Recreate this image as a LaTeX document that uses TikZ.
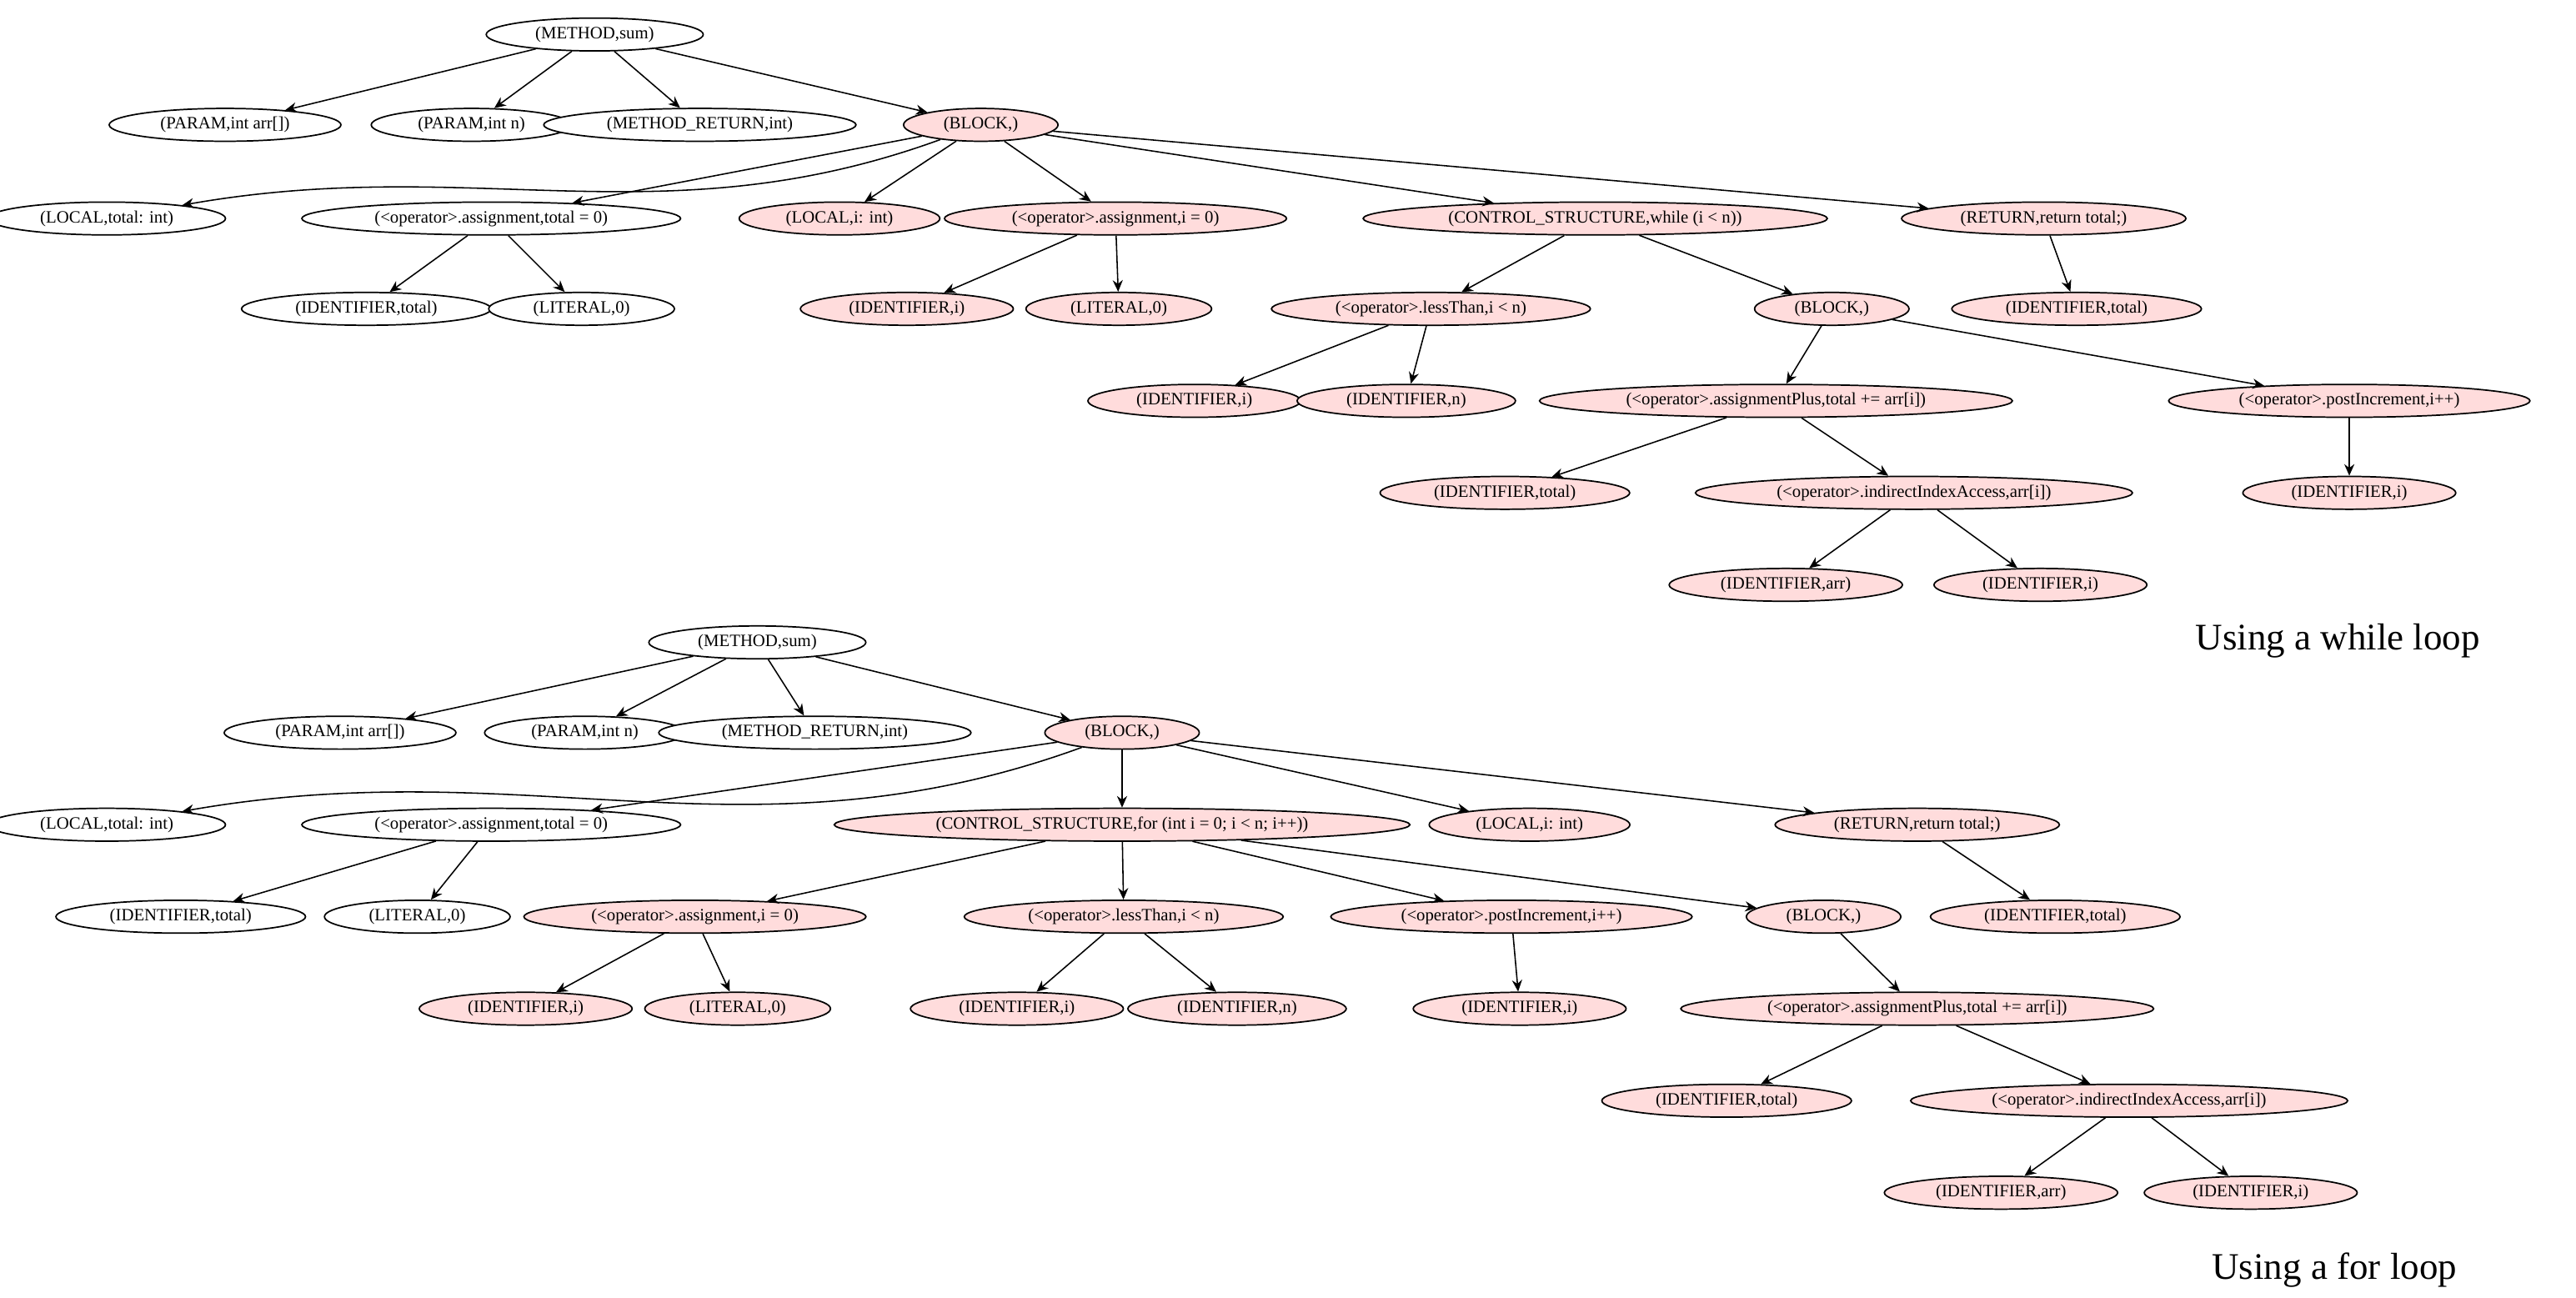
\documentclass[tikz,border=0pt]{standalone}
\usepackage{fontspec}
\setmainfont{Liberation Serif}
\usetikzlibrary{shapes.geometric,arrows.meta}
\definecolor{pk}{HTML}{FFDCDC}
\tikzset{
 n/.style={ellipse,draw,line width=0.5pt,inner xsep=6pt,inner ysep=0pt,minimum height=0.4cm,font=\fontsize{6}{7}\selectfont,fill=white},
 p/.style={n,fill=pk},
 e/.style={-{Stealth[length=4pt,width=3.5pt]},line width=0.45pt},
 captext/.style={font=\fontsize{13}{15}\selectfont}
}
\begin{document}
\begin{tikzpicture}[x=0.02cm,y=-0.02cm]
\useasboundingbox (0,0) rectangle (1568,790);
% top tree
\node[n] (a) at (362,21) {(METHOD,sum)};
\node[n] (a1) at (137,76) {(PARAM,int arr[])};
\node[n] (a2) at (287,76) {(PARAM,int n)};
\node[n] (a3) at (426,76) {(METHOD\_RETURN,int)};
\node[p] (ab) at (597,76) {(BLOCK,)};
\node[n] (b1) at (65,133) {(LOCAL,total: int)};
\node[n] (b2) at (299,133) {(<operator>.assignment,total = 0)};
\node[p] (b3) at (511,133) {(LOCAL,i: int)};
\node[p] (b4) at (679,133) {(<operator>.assignment,i = 0)};
\node[p] (b5) at (971,133) {(CONTROL\_STRUCTURE,while (i < n))};
\node[p] (b6) at (1244,133) {(RETURN,return total;)};
\node[n] (c1) at (223,188) {(IDENTIFIER,total)};
\node[n] (c2) at (354,188) {(LITERAL,0)};
\node[p] (c3) at (552,188) {(IDENTIFIER,i)};
\node[p] (c4) at (681,188) {(LITERAL,0)};
\node[p] (c5) at (871,188) {(<operator>.lessThan,i < n)};
\node[p] (c6) at (1115,188) {(BLOCK,)};
\node[p] (c7) at (1264,188) {(IDENTIFIER,total)};
\node[p] (d1) at (727,244) {(IDENTIFIER,i)};
\node[p] (d2) at (856,244) {(IDENTIFIER,n)};
\node[p] (d3) at (1081,244) {(<operator>.assignmentPlus,total += arr[i])};
\node[p] (d4) at (1430,244) {(<operator>.postIncrement,i++)};
\node[p] (f1) at (916,300) {(IDENTIFIER,total)};
\node[p] (f2) at (1165,300) {(<operator>.indirectIndexAccess,arr[i])};
\node[p] (f3) at (1430,300) {(IDENTIFIER,i)};
\node[p] (g1) at (1087,356) {(IDENTIFIER,arr)};
\node[p] (g2) at (1242,356) {(IDENTIFIER,i)};
\node[captext] (t1) at (1423,390) {Using a while loop};
\foreach \s/\t in {a/a1,a/a2,a/a3,a/ab,ab/b2,ab/b3,ab/b4,ab/b5,ab/b6,b2/c1,b2/c2,b4/c3,b4/c4,b5/c5,b5/c6,b6/c7,c5/d1,c5/d2,c6/d3,c6/d4,d3/f1,d3/f2,d4/f3,f2/g1,f2/g2}
  \draw[e] (\s) -- (\t);
\draw[e] (ab) to[out=200,in=10] (b1);
% bottom tree
\node[n] (A) at (461,391) {(METHOD,sum)};
\node[n] (A1) at (207,446) {(PARAM,int arr[])};
\node[n] (A2) at (356,446) {(PARAM,int n)};
\node[n] (A3) at (496,446) {(METHOD\_RETURN,int)};
\node[p] (AB) at (683,446) {(BLOCK,)};
\node[n] (B1) at (65,502) {(LOCAL,total: int)};
\node[n] (B2) at (299,502) {(<operator>.assignment,total = 0)};
\node[p] (B3) at (683,502) {(CONTROL\_STRUCTURE,for (int i = 0; i < n; i++))};
\node[p] (B4) at (931,502) {(LOCAL,i: int)};
\node[p] (B5) at (1167,502) {(RETURN,return total;)};
\node[n] (C1) at (110,558) {(IDENTIFIER,total)};
\node[n] (C2) at (254,558) {(LITERAL,0)};
\node[p] (C3) at (423,558) {(<operator>.assignment,i = 0)};
\node[p] (C4) at (684,558) {(<operator>.lessThan,i < n)};
\node[p] (C5) at (920,558) {(<operator>.postIncrement,i++)};
\node[p] (C6) at (1110,558) {(BLOCK,)};
\node[p] (C7) at (1251,558) {(IDENTIFIER,total)};
\node[p] (D1) at (320,614) {(IDENTIFIER,i)};
\node[p] (D2) at (449,614) {(LITERAL,0)};
\node[p] (D3) at (619,614) {(IDENTIFIER,i)};
\node[p] (D4) at (753,614) {(IDENTIFIER,n)};
\node[p] (D5) at (925,614) {(IDENTIFIER,i)};
\node[p] (D6) at (1167,614) {(<operator>.assignmentPlus,total += arr[i])};
\node[p] (F1) at (1051,670) {(IDENTIFIER,total)};
\node[p] (F2) at (1296,670) {(<operator>.indirectIndexAccess,arr[i])};
\node[p] (G1) at (1218,726) {(IDENTIFIER,arr)};
\node[p] (G2) at (1370,726) {(IDENTIFIER,i)};
\node[captext] (t2) at (1421,773) {Using a for loop};
\foreach \s/\t in {A/A1,A/A2,A/A3,A/AB,AB/B2,AB/B3,AB/B4,AB/B5,B2/C1,B2/C2,B3/C3,B3/C4,B3/C5,B3/C6,B5/C7,C3/D1,C3/D2,C4/D3,C4/D4,C5/D5,C6/D6,D6/F1,D6/F2,F2/G1,F2/G2}
  \draw[e] (\s) -- (\t);
\draw[e] (AB) to[out=200,in=10] (B1);
\end{tikzpicture}
\end{document}
